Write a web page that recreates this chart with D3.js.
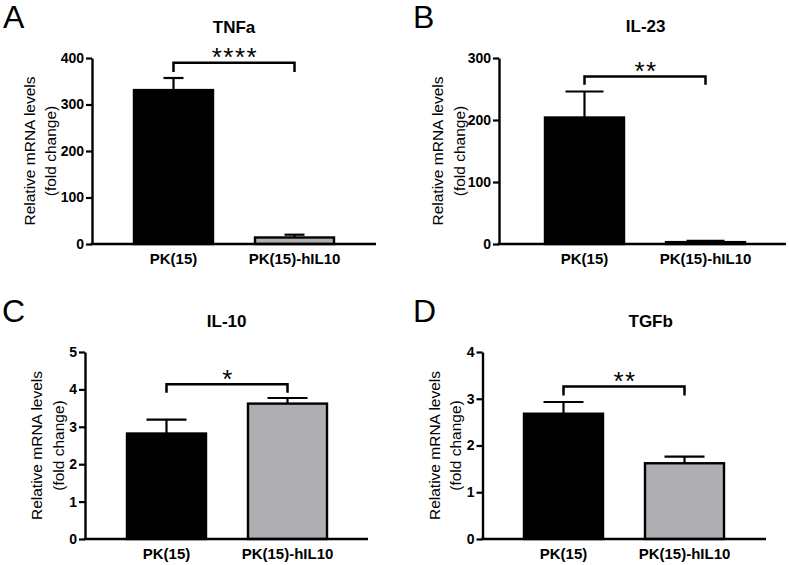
<!DOCTYPE html>
<html>
<head>
<meta charset="utf-8">
<script src="https://cdn.jsdelivr.net/npm/d3@7"></script>
<style>
  html, body { margin: 0; padding: 0; background: #fff; }
  svg { display: block; }
  text { font-family: "Liberation Sans", Arial, Helvetica, sans-serif; fill: #000; }
</style>
</head>
<body>
<svg id="chart" width="789" height="565"></svg>
<script>
// ---- data ----
const categories = ["PK(15)", "PK(15)-hIL10"];
const panelLetters = ["A", "B", "C", "D"];
const geneTitles = ["TNFa", "IL-23", "IL-10", "TGFb"];
const meanValues = [[331, 14], [204, 3], [2.82, 3.62], [2.68, 1.62]];
const semValues = [[26, 6], [42, 2], [0.37, 0.15], [0.25, 0.14]];
const yMaxValues = [400, 300, 5, 4];
const yTickValues = [[0, 100, 200, 300, 400], [0, 100, 200, 300], [0, 1, 2, 3, 4, 5], [0, 1, 2, 3, 4]];
const sigLabels = ["****", "**", "*", "**"];
const bracketLevels = [390, 270, 4.14, 3.26];
const bracketLegLevels = [370, 257, 3.91, 3.07];
const yLabelLines = ["Relative mRNA levels", "(fold change)"];
const barColors = ["#000000", "#afafb3"];

// ---- layout (positions only) ----
const layout = [
  {ax: 92,  top: 58,  bottom: 244, right: 376, band: [92, 376],  titleX: 234,   titleY: 32.7,  letterX: 3,   letterY: 28.3,  labX: [35, 56],      cap: 20},
  {ax: 499, top: 58,  bottom: 244, right: 786, band: [503, 787], titleX: 645.7, titleY: 32.3,  letterX: 413, letterY: 27.8,  labX: [443, 464.5],  cap: 38},
  {ax: 85,  top: 352, bottom: 539, right: 368, band: [85, 369],  titleX: 226.7, titleY: 326.7, letterX: 2,   letterY: 321.5, labX: [42, 63.5],    cap: 40},
  {ax: 482.5, top: 352, bottom: 539, right: 766, band: [482, 766], titleX: 650.7, titleY: 326.7, letterX: 413, letterY: 321.5, labX: [439.5, 460.5], cap: 40}
];

const svg = d3.select("#chart");

layout.forEach((L, i) => {
  const g = svg.append("g");
  const x = d3.scaleBand().domain(categories).range(L.band).paddingInner(0.347).paddingOuter(0.347);
  const y = d3.scaleLinear().domain([0, yMaxValues[i]]).range([L.bottom, L.top]);

  // panel letter
  g.append("text").attr("x", L.letterX).attr("y", L.letterY)
    .attr("font-size", 32).text(panelLetters[i]);

  // title
  g.append("text").attr("x", L.titleX).attr("y", L.titleY)
    .attr("text-anchor", "middle").attr("font-size", 17).attr("font-weight", "bold")
    .text(geneTitles[i]);

  const data = categories.map((c, k) => ({c, m: meanValues[i][k], s: semValues[i][k], k}));

  // error bars (upper only)
  const eb = g.append("g");
  data.forEach(d => {
    const cx = x(d.c) + x.bandwidth() / 2;
    eb.append("line").attr("x1", cx).attr("x2", cx)
      .attr("y1", y(d.m)).attr("y2", y(d.m + d.s))
      .attr("stroke", "#000").attr("stroke-width", 2.2);
    eb.append("line").attr("x1", cx - L.cap / 2).attr("x2", cx + L.cap / 2)
      .attr("y1", y(d.m + d.s)).attr("y2", y(d.m + d.s))
      .attr("stroke", "#000").attr("stroke-width", 2.2);
  });

  // bars
  g.append("g").selectAll("rect").data(data).join("rect")
    .attr("x", d => x(d.c))
    .attr("y", d => y(d.m))
    .attr("width", x.bandwidth())
    .attr("height", d => y(0) - y(d.m))
    .attr("fill", d => barColors[d.k])
    .attr("stroke", "#000").attr("stroke-width", 2.4);

  // y axis
  const yAxis = d3.axisLeft(y).tickValues(yTickValues[i]).tickSize(6).tickSizeOuter(0).tickPadding(2)
    .tickFormat(d3.format("d"));
  const ya = g.append("g").attr("transform", `translate(${L.ax},0)`).call(yAxis);
  ya.select(".domain").attr("stroke", "#000").attr("stroke-width", 2.4);
  ya.selectAll(".tick line").attr("stroke", "#000").attr("stroke-width", 2.2);
  ya.selectAll(".tick text").attr("font-size", 14).attr("font-weight", "bold")
    .attr("font-family", "'Liberation Sans', Arial, sans-serif").attr("fill", "#000");

  // x axis line
  g.append("line").attr("x1", L.ax - 1.2).attr("x2", L.right)
    .attr("y1", L.bottom).attr("y2", L.bottom)
    .attr("stroke", "#000").attr("stroke-width", 2.4);

  // x labels
  g.append("g").selectAll("text").data(categories).join("text")
    .attr("x", d => x(d) + x.bandwidth() / 2)
    .attr("y", L.bottom + 20)
    .attr("text-anchor", "middle").attr("font-size", 15).attr("font-weight", "bold")
    .text(d => d);

  // y label (two lines)
  const cy = (L.top + L.bottom) / 2;
  yLabelLines.forEach((t, j) => {
    g.append("text")
      .attr("transform", `translate(${L.labX[j]},${cy}) rotate(-90)`)
      .attr("text-anchor", "middle").attr("font-size", 15.5)
      .text(t);
  });

  // significance bracket
  const c1 = x(categories[0]) + x.bandwidth() / 2;
  const c2 = x(categories[1]) + x.bandwidth() / 2;
  const by = y(bracketLevels[i]);
  const ly = y(bracketLegLevels[i]);
  g.append("path")
    .attr("d", `M${c1},${ly}V${by}H${c2}V${ly}`)
    .attr("fill", "none").attr("stroke", "#000").attr("stroke-width", 2.5);
  const fs = 26;
  g.append("text")
    .attr("x", (c1 + c2) / 2 + 1)
    .attr("y", by - 11 + 0.57 * fs)
    .attr("text-anchor", "middle").attr("font-size", fs)
    .attr("letter-spacing", 1.5)
    .text(sigLabels[i]);
});
</script>
</body>
</html>
